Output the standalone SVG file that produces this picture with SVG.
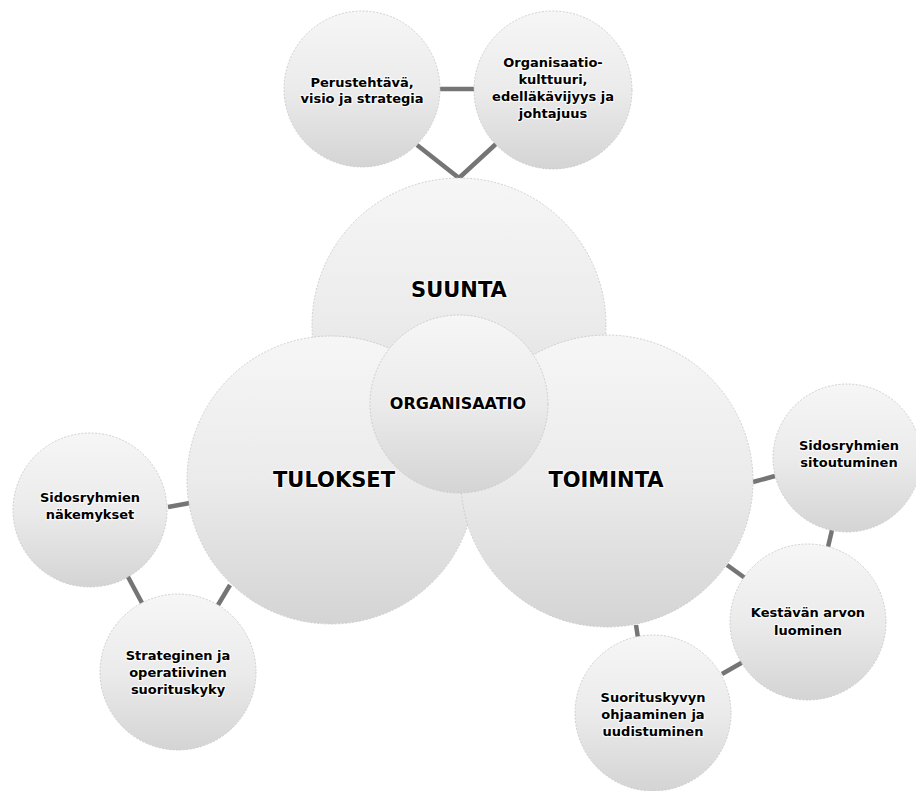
<svg xmlns="http://www.w3.org/2000/svg" width="916" height="791" viewBox="0 0 916 791">
  <defs>
    <linearGradient id="ball" x1="0" y1="0" x2="0" y2="1">
      <stop offset="0" stop-color="#f6f6f6"/>
      <stop offset="0.5" stop-color="#ebebeb"/>
      <stop offset="1" stop-color="#d4d4d4"/>
    </linearGradient>
    <style>
      .ball { fill: url(#ball); stroke: #c4c4c4; stroke-width: 0.8; stroke-dasharray: 2 1.5; }
      .link { stroke: #757575; stroke-width: 4.5; fill: none; stroke-linecap: butt; stroke-linejoin: miter; }
      text { font-family: "DejaVu Sans", Verdana, sans-serif; font-weight: bold; fill: #000; text-anchor: middle;
             stroke: #ffffff; stroke-opacity: 0.75; stroke-width: 2.5; paint-order: stroke; stroke-linejoin: round; }
      .big { font-size: 21px; }
      .mid { font-size: 16px; }
      .small { font-size: 13px; }
    </style>
  </defs>
  <rect width="916" height="791" fill="#ffffff"/>

  <!-- connectors between the balls -->
  <g id="connectors">
    <line class="link" x1="440" y1="89" x2="474" y2="89"/>
    <polyline class="link" points="417,145 459,178 497,143"/>
    <line class="link" x1="168" y1="507" x2="190" y2="503"/>
    <line class="link" x1="127" y1="575" x2="142" y2="603"/>
    <line class="link" x1="230" y1="585" x2="218" y2="605"/>
    <line class="link" x1="753" y1="482" x2="775" y2="476"/>
    <line class="link" x1="832" y1="530" x2="828" y2="547"/>
    <line class="link" x1="727" y1="565" x2="745" y2="578"/>
    <line class="link" x1="636" y1="625" x2="638" y2="638"/>
    <line class="link" x1="743" y1="662" x2="722" y2="674"/>
  </g>

  <!-- upper satellites -->
  <g id="perustehtava">
    <circle class="ball" cx="362" cy="89" r="78"/>
    <text class="small" x="362" y="87">Perustehtävä,</text>
    <text class="small" x="362" y="103">visio ja strategia</text>
  </g>
  <g id="organisaatiokulttuuri">
    <circle class="ball" cx="553" cy="90" r="79"/>
    <text class="small" x="553" y="67">Organisaatio-</text>
    <text class="small" x="553" y="84">kulttuuri,</text>
    <text class="small" x="553" y="101">edelläkävijyys ja</text>
    <text class="small" x="553" y="118">johtajuus</text>
  </g>

  <!-- three main balls -->
  <g id="suunta">
    <circle class="ball" cx="459" cy="325" r="147"/>
    <text class="big" x="459" y="297">SUUNTA</text>
  </g>
  <g id="tulokset">
    <circle class="ball" cx="331" cy="480" r="144"/>
    <text class="big" x="334" y="487">TULOKSET</text>
  </g>
  <g id="toiminta">
    <circle class="ball" cx="607" cy="481" r="146"/>
    <text class="big" x="606" y="487">TOIMINTA</text>
  </g>
  <g id="organisaatio">
    <circle class="ball" cx="459" cy="404" r="89"/>
    <text class="mid" x="458" y="409">ORGANISAATIO</text>
  </g>

  <!-- left satellites -->
  <g id="sidosryhmien-nakemykset">
    <circle class="ball" cx="90" cy="510" r="77"/>
    <text class="small" x="90" y="502">Sidosryhmien</text>
    <text class="small" x="90" y="519">näkemykset</text>
  </g>
  <g id="strateginen">
    <circle class="ball" cx="178" cy="672" r="78"/>
    <text class="small" x="178" y="660">Strateginen ja</text>
    <text class="small" x="178" y="677">operatiivinen</text>
    <text class="small" x="178" y="694">suorituskyky</text>
  </g>

  <!-- right satellites -->
  <g id="sidosryhmien-sitoutuminen">
    <circle class="ball" cx="847" cy="458" r="74"/>
    <text class="small" x="849" y="450">Sidosryhmien</text>
    <text class="small" x="849" y="467">sitoutuminen</text>
  </g>
  <g id="kestavan-arvon">
    <circle class="ball" cx="808" cy="622" r="78"/>
    <text class="small" x="808" y="617">Kestävän arvon</text>
    <text class="small" x="808" y="635">luominen</text>
  </g>
  <g id="suorituskyvyn">
    <circle class="ball" cx="653" cy="713" r="78"/>
    <text class="small" x="653" y="702">Suorituskyvyn</text>
    <text class="small" x="653" y="719">ohjaaminen ja</text>
    <text class="small" x="653" y="736">uudistuminen</text>
  </g>
</svg>
